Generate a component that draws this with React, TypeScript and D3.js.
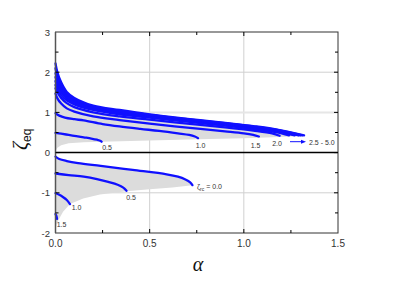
import React from "react";
import * as d3 from "d3";

const alphaTicks = [0, 0.5, 1.0, 1.5];
const alphaTickLabels = ["0.0", "0.5", "1.0", "1.5"];
const alphaMinor = [0.25, 0.75, 1.25];
const zetaTicks = [-2, -1, 0, 1, 2, 3];
const zetaTickLabels = ["-2", "-1", "0", "1", "2", "3"];
const zetaMinor = [-1.5, -0.5, 0.5, 1.5, 2.5];
const gridAlpha = [0.5, 1.0];
const gridZeta = [-1, 1, 2];

// upper branch curves [alpha, zeta]
const up05: [number, number][] = [[0, 0.49], [0.03, 0.47], [0.07, 0.44], [0.11, 0.41], [0.15, 0.38], [0.19, 0.35], [0.22, 0.32], [0.24, 0.29], [0.245, 0.27]];
const up10: [number, number][] = [[0, 0.98], [0.02, 0.92], [0.05, 0.87], [0.1, 0.83], [0.15, 0.8], [0.25, 0.71], [0.34, 0.65], [0.45, 0.59], [0.55, 0.54], [0.65, 0.48], [0.71, 0.44], [0.74, 0.4], [0.757, 0.36]];
const up15: [number, number][] = [[0, 1.47], [0.01, 1.35], [0.03, 1.22], [0.06, 1.1], [0.1, 1.02], [0.2, 0.9], [0.34, 0.81], [0.5, 0.72], [0.7, 0.62], [0.9, 0.53], [1.0, 0.48], [1.05, 0.44], [1.08, 0.4]];
const up20: [number, number][] = [[0, 1.6], [0.01, 1.5], [0.03, 1.36], [0.06, 1.23], [0.1, 1.13], [0.2, 1.0], [0.34, 0.9], [0.5, 0.82], [0.7, 0.72], [0.9, 0.63], [1.05, 0.55], [1.15, 0.48], [1.19, 0.42]];
const up25: [number, number][] = [[0, 1.68], [0.01, 1.58], [0.03, 1.43], [0.06, 1.3], [0.1, 1.2], [0.2, 1.06], [0.34, 0.95], [0.5, 0.87], [0.7, 0.77], [0.9, 0.67], [1.05, 0.59], [1.17, 0.51], [1.24, 0.43]];
const up30: [number, number][] = [[0, 1.78], [0.01, 1.66], [0.03, 1.5], [0.06, 1.35], [0.1, 1.24], [0.2, 1.09], [0.34, 0.98], [0.5, 0.89], [0.7, 0.79], [0.9, 0.69], [1.05, 0.61], [1.17, 0.53], [1.27, 0.43]];
const up35: [number, number][] = [[0, 1.88], [0.01, 1.74], [0.03, 1.56], [0.06, 1.39], [0.1, 1.27], [0.2, 1.11], [0.34, 1.0], [0.5, 0.91], [0.7, 0.81], [0.9, 0.71], [1.05, 0.63], [1.17, 0.55], [1.29, 0.43]];
const up40: [number, number][] = [[0, 1.98], [0.01, 1.82], [0.03, 1.62], [0.06, 1.43], [0.1, 1.3], [0.2, 1.13], [0.34, 1.02], [0.5, 0.93], [0.7, 0.82], [0.9, 0.72], [1.05, 0.64], [1.17, 0.56], [1.3, 0.43]];
const up45: [number, number][] = [[0, 2.1], [0.01, 1.9], [0.03, 1.68], [0.06, 1.47], [0.1, 1.33], [0.2, 1.15], [0.34, 1.04], [0.5, 0.94], [0.7, 0.83], [0.9, 0.73], [1.05, 0.65], [1.17, 0.57], [1.31, 0.43]];
const up50: [number, number][] = [[0, 2.22], [0.01, 2.0], [0.03, 1.75], [0.06, 1.51], [0.1, 1.36], [0.2, 1.17], [0.34, 1.06], [0.5, 0.95], [0.7, 0.84], [0.9, 0.74], [1.05, 0.66], [1.17, 0.58], [1.32, 0.43]];

// lower branch curves
const lo00: [number, number][] = [[0, -0.1], [0.02, -0.16], [0.06, -0.21], [0.12, -0.26], [0.24, -0.33], [0.41, -0.43], [0.59, -0.54], [0.65, -0.6], [0.69, -0.67], [0.715, -0.74], [0.727, -0.81]];
const lo05: [number, number][] = [[0, -0.52], [0.07, -0.56], [0.15, -0.6], [0.22, -0.66], [0.28, -0.73], [0.33, -0.8], [0.36, -0.87], [0.377, -0.95]];
const lo10: [number, number][] = [[0, -1.01], [0.02, -1.05], [0.041, -1.11], [0.06, -1.18], [0.077, -1.28]];
const lo15: [number, number][] = [[0, -1.53], [0.005, -1.58], [0.008, -1.65]];

// shaded region boundaries
const upperShadeBottom: [number, number][] = [[0, 0.04], [0.01, 0.12], [0.03, 0.18], [0.07, 0.23], [0.15, 0.26], [0.245, 0.27], [0.5, 0.3], [0.757, 0.33], [1.0, 0.36], [1.19, 0.39], [1.32, 0.41]];
const lowerShadeBottom: [number, number][] = [[0, -1.95], [0.005, -1.8], [0.015, -1.68], [0.04, -1.47], [0.077, -1.28], [0.147, -1.14], [0.236, -1.04], [0.377, -0.96], [0.5, -0.91], [0.62, -0.87], [0.727, -0.81]];

const upperCurves = [up05, up10, up15, up20, up25, up30, up35, up40, up45, up50];
const lowerCurves = [lo00, lo05, lo10, lo15];

export default function App() {
  const W = 415, H = 281;
  const x = d3.scaleLinear().domain([0, 1.5]).range([55.5, 338]);
  const y = d3.scaleLinear().domain([-2, 3]).range([233, 32]);
  const line = d3.line<[number, number]>().x(d => x(d[0])).y(d => y(d[1])).curve(d3.curveCatmullRom);
  const upperShade = [...up50, ...upperShadeBottom.slice().reverse()];
  const lowerShade = [...lo00, ...lowerShadeBottom.slice().reverse()];
  const areaPath = (pts: [number, number][]) => "M" + pts.map(p => `${x(p[0])},${y(p[1])}`).join("L") + "Z";
  const x0 = x(0), x1 = x(1.5), yT = y(3), yB = y(-2);
  const font = "Liberation Sans, Arial, sans-serif";
  const blue = "#1010ff";
  return (
    <svg width={W} height={H} style={{ position: "absolute", left: 0, top: 0 }}>
      <rect width={W} height={H} fill="#fff" />
      {/* grid */}
      {gridAlpha.map(a => <line key={"ga" + a} x1={x(a)} x2={x(a)} y1={yT} y2={yB} stroke="#d0d0d0" strokeWidth={1} />)}
      {gridZeta.map(z => <line key={"gz" + z} x1={x0} x2={x1} y1={y(z)} y2={y(z)} stroke={z === 1 ? "#e6e6e6" : "#d0d0d0"} strokeWidth={z === 1 ? 2 : 1} />)}
      {/* shaded */}
      <path d={areaPath(upperShade)} fill="#dcdcdc" />
      <path d={areaPath(lowerShade)} fill="#dcdcdc" />
      {/* curves */}
      {upperCurves.map((c, i) => <path key={"u" + i} d={line(c) || ""} fill="none" stroke={blue} strokeWidth={2.3} strokeLinecap="round" />)}
      {lowerCurves.map((c, i) => <path key={"l" + i} d={line(c) || ""} fill="none" stroke={blue} strokeWidth={2.3} strokeLinecap="round" />)}
      {/* zero line */}
      <line x1={x0} x2={x1} y1={y(0)} y2={y(0)} stroke="#000" strokeWidth={1.5} />
      {/* frame */}
      <rect x={x0} y={yT} width={x1 - x0} height={yB - yT} fill="none" stroke="#333" strokeWidth={1} />
      <line x1={x0} x2={x0} y1={yT} y2={yB} stroke="#555" strokeWidth={1.5} />
      {/* ticks */}
      {alphaTicks.slice(1, -1).map(a => (
        <g key={"ta" + a}>
          <line x1={x(a)} x2={x(a)} y1={yB} y2={yB - 4} stroke="#000" />
          <line x1={x(a)} x2={x(a)} y1={yT} y2={yT + 4} stroke="#000" />
        </g>
      ))}
      {alphaMinor.map(a => (
        <g key={"tm" + a}>
          <line x1={x(a)} x2={x(a)} y1={yB} y2={yB - 3} stroke="#000" />
          <line x1={x(a)} x2={x(a)} y1={yT} y2={yT + 3} stroke="#000" />
        </g>
      ))}
      {zetaTicks.slice(1, -1).map(z => (
        <g key={"tz" + z}>
          <line x1={x0} x2={x0 + 4} y1={y(z)} y2={y(z)} stroke="#000" />
          <line x1={x1} x2={x1 - 4} y1={y(z)} y2={y(z)} stroke="#000" />
        </g>
      ))}
      {zetaMinor.map(z => (
        <g key={"tzm" + z}>
          <line x1={x0} x2={x0 + 3} y1={y(z)} y2={y(z)} stroke="#000" />
          <line x1={x1} x2={x1 - 3} y1={y(z)} y2={y(z)} stroke="#000" />
        </g>
      ))}
      {/* tick labels */}
      {alphaTicks.map((a, i) => (
        <text key={"la" + a} x={x(a)} y={yB + 14} textAnchor="middle" fontFamily={font} fontSize={10} fill="#333">{alphaTickLabels[i]}</text>
      ))}
      {zetaTicks.map((z, i) => (
        <text key={"lz" + z} x={50} y={y(z) + 3.5} textAnchor="end" fontFamily={font} fontSize={9.5} fill="#333">{zetaTickLabels[i]}</text>
      ))}
      {/* axis titles */}
      <text x={198} y={271} textAnchor="middle" fontFamily="Liberation Serif, serif" fontStyle="italic" fontSize={20} fill="#111">α</text>
      <g transform="translate(27,150) rotate(-90)">
        <text x={0} y={0} fontFamily="Liberation Serif, serif" fontStyle="italic" fontSize={20} fill="#111">ζ<tspan fontStyle="normal" fontFamily={font} fontSize={12} dy={4}>eq</tspan></text>
      </g>
      {/* curve labels */}
      <g fontFamily={font} fontSize={7} fill="#333">
        <text x={107} y={150} textAnchor="middle">0.5</text>
        <text x={200.5} y={148} textAnchor="middle">1.0</text>
        <text x={255.5} y={148} textAnchor="middle">1.5</text>
        <text x={277} y={146} textAnchor="middle">2.0</text>
        <text x={309} y={144.5}>2.5 - 5.0</text>
        <text x={197} y={189}>ζ<tspan fontSize={5} dy={1.5}>rc</tspan><tspan dy={-1.5}> = 0.0</tspan></text>
        <text x={131} y={200} textAnchor="middle">0.5</text>
        <text x={76.5} y={210} textAnchor="middle">1.0</text>
        <text x={61.5} y={227} textAnchor="middle">1.5</text>
      </g>
      <line x1={290} x2={303} y1={141.7} y2={141.7} stroke={blue} strokeWidth={1} />
      <path d="M306,141.7 L301,139.7 L301,143.7 Z" fill={blue} />
    </svg>
  );
}
